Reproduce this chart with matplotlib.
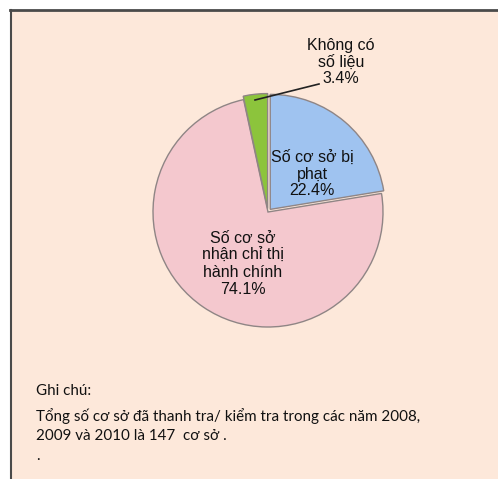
"""Pie chart of inspected establishments, 2008-2010"""

import matplotlib.pyplot as plt
from matplotlib.patches import Rectangle

# slice data, drawn clockwise from 12 o'clock
labels = ["Số cơ sở bị\nphạt", "Số cơ sở\nnhận chỉ thị\nhành chính", "Không có\nsố liệu"]
shares = [22.4, 74.1, 3.4]
colors = ["#9fc3f0", "#f4c8ce", "#8cc43c"]
explode = [0.03, 0.0, 0.03]

note_title = "Ghi chú:"
note_lines = [
    "Tổng số cơ sở đã thanh tra/ kiểm tra trong các năm 2008,",
    "2009 và 2010 là 147  cơ sở .",
    ".",
]

W, H = 498, 479
fig = plt.figure(figsize=(W / 100, H / 100), dpi=100)
fig.patch.set_facecolor("white")

# framed peach panel
fig.patches.append(Rectangle((10 / W, 0), (W - 10) / W, (H - 10) / H,
                             transform=fig.transFigure, facecolor="#fde8da",
                             edgecolor="none", zorder=-5))
fig.lines.append(plt.Line2D([10 / W, 1], [1 - 10 / H, 1 - 10 / H],
                            transform=fig.transFigure, color="#4a4a4a", lw=2, zorder=-4))
fig.lines.append(plt.Line2D([10.5 / W, 10.5 / W], [0, 1 - 10 / H],
                            transform=fig.transFigure, color="#4a4a4a", lw=1.5, zorder=-4))

# pie: centre at (268, 212) px, radius 115 px
cx, cy, r = 268, 212, 115
half = 140
ax = fig.add_axes([(cx - half) / W, (H - cy - half) / H, 2 * half / W, 2 * half / H])
ax.set_zorder(2)

wedges, _ = ax.pie(shares, colors=colors, startangle=90, counterclock=False,
                   explode=explode, radius=1,
                   wedgeprops=dict(edgecolor="#8f8585", linewidth=1.0))
ax.set_xlim(-half / r, half / r)
ax.set_ylim(-half / r, half / r)
ax.set_aspect("equal")
ax.axis("off")

def px(x, y):
    """pixel position -> data coords of the pie axes"""
    return (x - cx) / r, (cy - y) / r

font = dict(family="Liberation Sans", fontsize=11.5, color="#111111",
            ha="center", va="center", linespacing=1.15)

ax.text(*px(312, 174), f"{labels[0]}\n{shares[0]}%", **font)
ax.text(*px(243, 264), f"{labels[1]}\n{shares[1]}%", **font)
ax.text(*px(341, 62), f"{labels[2]}\n{shares[2]}%", clip_on=False, **font)
ax.plot(*zip(px(255, 100), px(319, 84)), color="#222222", lw=1.2, clip_on=False)

note = dict(family="Lato", fontsize=10.9, color="#111111", ha="left", va="center")
fig.text(36 / W, 1 - 391 / H, note_title, **note)
for i, line in enumerate(note_lines):
    fig.text(36 / W, 1 - (416 + 20 * i) / H, line, **note)

fig.savefig("out.png", dpi=100)
